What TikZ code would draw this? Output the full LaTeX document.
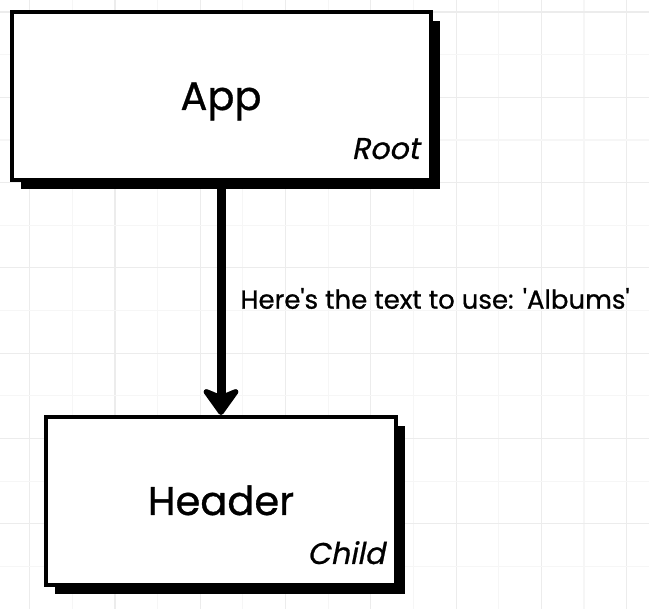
\documentclass[tikz,border=0pt]{standalone}
\usepackage{fontspec}
\setmainfont{Poppins}[FakeBold=0.8]
\newfontfamily\tagfont{Poppins}[FakeSlant=0.2,FakeBold=0.8]
\usetikzlibrary{arrows.meta,positioning,shadows}
\definecolor{ink}{HTML}{000000}
\definecolor{gridmajor}{HTML}{ECECEC}
\definecolor{gridminor}{HTML}{F6F6F6}
\tikzset{
  compbox/.style={draw=ink,fill=white,line width=4pt,minimum height=168pt,
    inner sep=0pt,text height=28pt,text depth=0pt,font=\fontsize{40}{48}\selectfont,
    drop shadow={shadow xshift=9pt,shadow yshift=-9pt,fill=ink,opacity=1}},
  tag/.style={inner sep=0pt,font=\tagfont\fontsize{30}{36}\selectfont,anchor=base east},
  flow/.style={-{Stealth[length=31pt,width=44pt,inset=9pt,round]},line width=9pt,draw=ink},
  msg/.style={font=\fontsize{26}{31}\selectfont,inner sep=0pt},
  gridline/.style={draw=#1,line width=1.2pt},
  gridline/.default=gridmajor,
}

\begin{document}
\begin{tikzpicture}[x=1pt,y=1pt]
  \useasboundingbox (0,0) rectangle (649,609);
  \fill[white] (0,0) rectangle (649,609);
  % background grid
  \foreach \gx in {0,...,14}{
    \pgfmathsetmacro{\gcol}{isodd(\gx) ? "gridminor" : "gridmajor"}
    \draw[gridline=\gcol] ({29.6+42.65*\gx},0) -- ({29.6+42.65*\gx},609);
  }
  \foreach \gy in {0,...,13}{
    \pgfmathsetmacro{\gcol}{isodd(\gy) ? "gridminor" : "gridmajor"}
    \draw[gridline=\gcol] (0,{597-42.65*\gy}) -- (649,{597-42.65*\gy});
  }
  \node[compbox,minimum width=419pt] (app) at (221,513) {App};
  \node[compbox,minimum width=350pt] (header) at (221,108) {Header};
  \node[tag] (roottag) at ([xshift=-13pt,yshift=23pt]app.south east) {Root};
  \node[tag] (childtag) at ([xshift=-13pt,yshift=23pt]header.south east) {Child};
  \draw[flow] (app) -- (header)
    node[msg,midway,right=15pt] (msgtext)
      {Here\textquotesingle s the text to use: \textquotesingle Albums\textquotesingle};
\end{tikzpicture}
\end{document}
